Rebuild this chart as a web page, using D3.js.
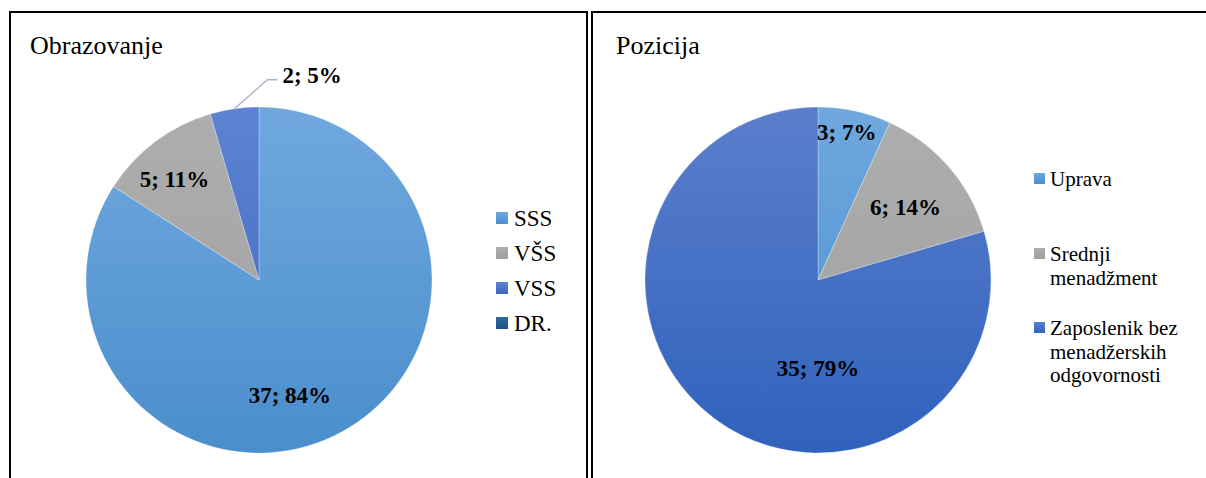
<!DOCTYPE html>
<html>
<head>
<meta charset="utf-8">
<script src="https://cdn.jsdelivr.net/npm/d3@7"></script>
<style>
  body { margin: 0; background: #fff; }
</style>
</head>
<body>
<svg id="chart" width="1206" height="478"></svg>
<script>
// Obrazovanje
const eduCats = ["SSS", "VŠS", "VSS", "DR."];
const eduVals = [37, 5, 2, 0];
const eduPct = ["84%", "11%", "5%", "0%"];

// Pozicija
const posCats = ["Uprava", "Srednji menadžment", "Zaposlenik bez menadžerskih odgovornosti"];
const posLegendLines = [["Uprava"], ["Srednji", "menadžment"], ["Zaposlenik bez", "menadžerskih", "odgovornosti"]];
const posVals = [3, 6, 35];
const posPct = ["7%", "14%", "79%"];

// gradient colours (top, bottom) per slice
const eduColors = [["#70a8de", "#4a8ecd"], ["#aeaeae", "#9f9f9f"], ["#5d84d2", "#3a66be"], ["#2f6aa0", "#1f5284"]];
const posColors = [["#70a8de", "#4a8ecd"], ["#aeaeae", "#9f9f9f"], ["#5b7ecc", "#2f62bc"]];

const FONT = '"Liberation Serif", "Times New Roman", serif';
const svg = d3.select("#chart").attr("font-family", FONT);
const defs = svg.append("defs");
const R = 173;
const LABEL_SIZE = 23;

// panel frames (bottom cut off like the reference)
svg.append("rect").attr("x", 10).attr("y", 12).attr("width", 577).attr("height", 500)
  .attr("fill", "none").attr("stroke", "#000").attr("stroke-width", 2);
svg.append("rect").attr("x", 592).attr("y", 12).attr("width", 640).attr("height", 500)
  .attr("fill", "none").attr("stroke", "#000").attr("stroke-width", 2);

function drawPie(opts) {
  const g = svg.append("g").attr("transform", `translate(${opts.cx},${opts.cy})`);
  const pie = d3.pie().sort(null).value(d => d.v);
  const arcs = pie(opts.vals.map((v, i) => ({ v, i })));
  const arc = d3.arc().innerRadius(0).outerRadius(R);

  opts.colors.forEach((c, i) => {
    const gr = defs.append("linearGradient")
      .attr("id", `${opts.id}-g${i}`)
      .attr("gradientUnits", "userSpaceOnUse")
      .attr("x1", 0).attr("y1", -R).attr("x2", 0).attr("y2", R);
    gr.append("stop").attr("offset", 0).attr("stop-color", c[0]);
    gr.append("stop").attr("offset", 1).attr("stop-color", c[1]);
  });

  g.selectAll("path.slice")
    .data(arcs.filter(d => d.data.v > 0))
    .join("path")
    .attr("class", "slice")
    .attr("d", arc)
    .attr("fill", d => `url(#${opts.id}-g${d.data.i})`)
    .attr("stroke", "#ffffff")
    .attr("stroke-opacity", 0.35)
    .attr("stroke-width", 0.8);

  // data labels
  arcs.forEach((d, i) => {
    if (d.data.v === 0) return;
    const lp = opts.labelPos[i];
    const text = `${opts.vals[i]}; ${opts.pct[i]}`;
    if (lp.outside) {
      const mid = (d.startAngle + d.endAngle) / 2;
      const p0 = [R * Math.sin(mid), -R * Math.cos(mid)];
      const p1 = [p0[0] + lp.dx, p0[1] + lp.dy];
      const p2 = [p1[0] + 10, p1[1]];
      g.append("polyline")
        .attr("points", [p0, p1, p2].map(p => p.join(",")).join(" "))
        .attr("fill", "none").attr("stroke", "#a6b4c8").attr("stroke-width", 1.3);
      g.append("text")
        .attr("x", p2[0] + 5).attr("y", p2[1] - 5)
        .attr("dy", "0.35em")
        .attr("font-size", LABEL_SIZE).attr("font-weight", "bold")
        .text(text);
    } else {
      const a = lp.angle * Math.PI / 180;
      const rr = lp.r * R;
      g.append("text")
        .attr("x", rr * Math.sin(a)).attr("y", -rr * Math.cos(a))
        .attr("dy", "0.35em")
        .attr("text-anchor", "middle")
        .attr("font-size", LABEL_SIZE).attr("font-weight", "bold")
        .text(text);
    }
  });
}

// Left chart
svg.append("text").attr("x", 30).attr("y", 54).attr("font-size", 26).text("Obrazovanje");
drawPie({
  id: "edu", cx: 259, cy: 280, vals: eduVals, pct: eduPct, colors: eduColors,
  labelPos: [{ angle: 165, r: 0.69 }, { angle: 320, r: 0.76 }, { outside: true, dx: 33, dy: -29 }, { angle: 0, r: 0 }]
});

eduColors.forEach((c, i) => {
  const gr = defs.append("linearGradient").attr("id", `edu-lg${i}`)
    .attr("x1", 0).attr("y1", 0).attr("x2", 0).attr("y2", 1);
  gr.append("stop").attr("offset", 0).attr("stop-color", c[0]);
  gr.append("stop").attr("offset", 1).attr("stop-color", c[1]);
});
const eduLegend = svg.append("g").attr("transform", "translate(496,218)");
eduCats.forEach((c, i) => {
  const row = eduLegend.append("g").attr("transform", `translate(0,${i * 35})`);
  row.append("rect").attr("x", 0).attr("y", -6).attr("width", 12).attr("height", 12)
    .attr("fill", `url(#edu-lg${i})`);
  row.append("text").attr("x", 18).attr("y", 0).attr("dy", "0.35em")
    .attr("font-size", 23).text(c);
});

// Right chart
svg.append("text").attr("x", 616).attr("y", 54).attr("font-size", 26).text("Pozicija");
drawPie({
  id: "pos", cx: 818, cy: 280, vals: posVals, pct: posPct, colors: posColors,
  labelPos: [{ angle: 11, r: 0.87 }, { angle: 50, r: 0.66 }, { angle: 180, r: 0.51 }]
});

posColors.forEach((c, i) => {
  const gr = defs.append("linearGradient").attr("id", `pos-lg${i}`)
    .attr("x1", 0).attr("y1", 0).attr("x2", 0).attr("y2", 1);
  gr.append("stop").attr("offset", 0).attr("stop-color", c[0]);
  gr.append("stop").attr("offset", 1).attr("stop-color", c[1]);
});
const posLegendY = [186, 261, 335];
const posLegend = svg.append("g").attr("transform", "translate(1034,0)");
posLegendLines.forEach((lines, i) => {
  const row = posLegend.append("g").attr("transform", `translate(0,${posLegendY[i]})`);
  row.append("rect").attr("x", 0).attr("y", -13).attr("width", 11).attr("height", 11)
    .attr("fill", `url(#pos-lg${i})`);
  const t = row.append("text").attr("x", 16).attr("y", 0).attr("font-size", 21);
  lines.forEach((ln, j) => {
    t.append("tspan").attr("x", 16).attr("y", j * 23.5).text(ln);
  });
});
</script>
</body>
</html>
